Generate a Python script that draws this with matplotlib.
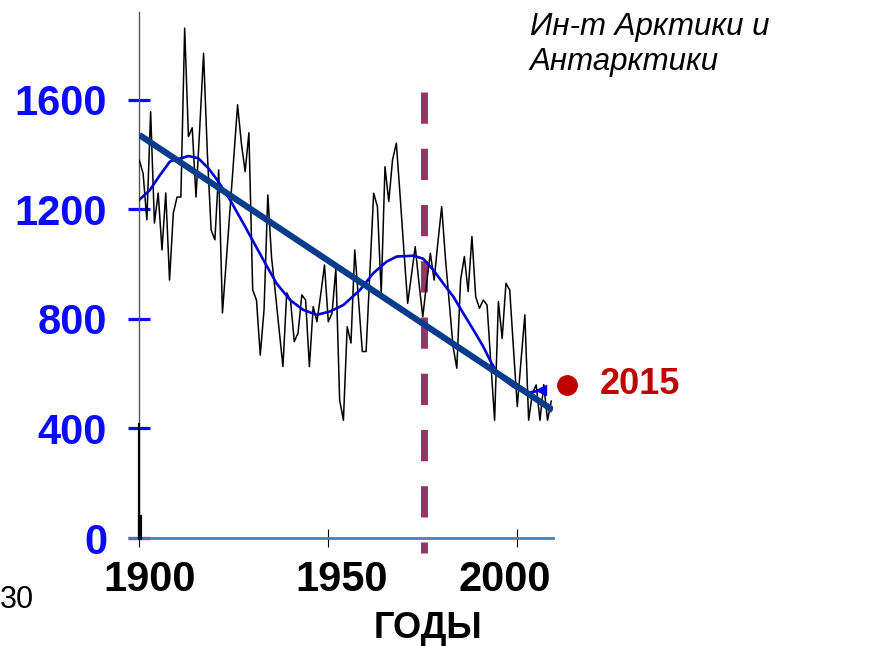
import matplotlib
matplotlib.use("Agg")
import matplotlib.pyplot as plt
import numpy as np

plt.rcParams["font.family"] = ["Liberation Sans", "DejaVu Sans"]

# yearly series (black line)
years = np.arange(1900, 2010)
values = [1380, 1332, 1162, 1557, 1150, 1260, 1052, 1260, 942, 1187,
          1245, 1245, 1862, 1466, 1498, 1245, 1500, 1770, 1406, 1125,
          1089, 1344, 822, 1010, 1200, 1390, 1582, 1442, 1338, 1480,
          906, 869, 668, 833, 1253, 1023, 895, 760, 626, 895,
          869, 717, 749, 888, 869, 626, 845, 790, 890, 997,
          790, 821, 985, 504, 430, 772, 712, 1052, 870, 681,
          681, 970, 1259, 1210, 894, 1356, 1229, 1381, 1442, 1250,
          1050, 857, 960, 1064, 930, 808, 930, 1040, 942, 1080,
          1210, 1020, 860, 700, 620, 942, 1028, 900, 1101, 881,
          839, 869, 851, 640, 430, 863, 729, 930, 906, 690,
          480, 650, 815, 430, 529, 559, 430, 560, 430, 500]

# smoothed curve (blue)
smooth_years = [1900, 1902.8, 1905.5, 1908.1, 1913.0, 1915.6, 1918.3, 1920.9,
                1924.0, 1928.0, 1932.8, 1936.3, 1939.9, 1943.4, 1946.9, 1950.4,
                1954.0, 1958.4, 1961.9, 1965.4, 1968.1, 1972.5, 1975.1, 1977.8,
                1980.4, 1983.1, 1985.7, 1988.4, 1991.0, 1993.2, 1995.4, 1998.9,
                2002.5, 2004.7, 2006.4]
smooth_vals = [1235, 1271, 1326, 1375, 1395, 1387, 1350, 1302,
               1235, 1137, 1016, 930, 869, 833, 815, 827,
               851, 906, 967, 1009, 1028, 1031, 1020, 979,
               930, 881, 821, 760, 699, 638, 589, 553,
               529, 535, 541]

# linear trend
trend_years = [1900, 2009.4]
trend_vals = [1472, 467]

# marked year and 2015 point
split_year = 1975.4
split_span = [1629, -55]
point_year = 2013.1
point_val = 559

yticks = [0, 400, 800, 1200, 1600]
xticks = [1900, 1950, 2000]
xtick_labels = ["1900", "1950", "2000"]
xlabel_pos = [1902.8, 1953.4, 1996.7]

W, H = 878, 646
fig = plt.figure(figsize=(W / 100, H / 100), dpi=100)
ax = fig.add_axes([139.3 / W, 108 / H, 413.4 / W, 526 / H])

ax.plot(years, values, color="black", lw=1.1, zorder=3)
ax.plot(smooth_years, smooth_vals, color="#0000d8", lw=1.9, zorder=4)
ax.plot(smooth_years[-1:], smooth_vals[-1:], marker="<", color="#0000ff",
        ms=7, zorder=4)
ax.plot(trend_years, trend_vals, color="#063c8c", lw=4.5, zorder=5,
        solid_capstyle="butt")
ax.plot([split_year, split_year], split_span, color="#993366", lw=5,
        dashes=(4.5, 3.6), clip_on=False, zorder=2)
ax.plot([point_year], [point_val], "o", color="#c00000", ms=14,
        clip_on=False, zorder=6)
ax.annotate("2015", xy=(point_year, point_val), xytext=(24, 0),
            textcoords="offset points", va="center", ha="left",
            fontsize=26, fontweight="bold", color="#c00000",
            annotation_clip=False)

ax.set_xlim(1900, 2009.37)
ax.set_ylim(0, 1921)

for side in ("top", "right"):
    ax.spines[side].set_visible(False)
ax.spines["left"].set_color("#555555")
ax.spines["left"].set_linewidth(1.0)
ax.spines["bottom"].set_color("#4a7ebb")
ax.spines["bottom"].set_linewidth(2.0)
ax.spines["bottom"].set_bounds(1897.6, 2009.37)

# darker lower part of the left axis
ax.plot([1900, 1900], [0, 415], color="black", lw=1.6, clip_on=False, zorder=6)
ax.plot([1900.2, 1900.2], [0, 75], color="black", lw=3, clip_on=False, zorder=6)

ax.set_yticks(yticks)
ax.set_yticklabels([str(v) for v in yticks])
ax.tick_params(axis="y", direction="inout", length=16.5, width=2.3,
               colors="#0a0aff", labelsize=30, pad=15)
for lab in ax.get_yticklabels():
    lab.set_fontweight("bold")

ax.set_xticks(xticks)
ax.set_xticklabels([])
ax.tick_params(axis="x", direction="inout", length=13, width=0.8,
               color="black")
for x, t in zip(xlabel_pos, xtick_labels):
    ax.text(x, -0.08, t, transform=ax.get_xaxis_transform(), ha="center",
            va="center", fontsize=30, fontweight="bold", color="black",
            clip_on=False)

fig.text(428 / W, 1 - 628 / H, "ГОДЫ", ha="center", va="center",
         fontsize=26, fontweight="bold", color="black")
fig.text(530 / W, 1 - 12 / H, "Ин-т Арктики и\nАнтарктики", ha="left",
         va="top", fontsize=22.5, style="italic", color="black",
         linespacing=1.2)
fig.text(0, 1 - 600 / H, "30", ha="left", va="center",
         fontsize=22, color="black")

fig.savefig("out.png", dpi=100)
